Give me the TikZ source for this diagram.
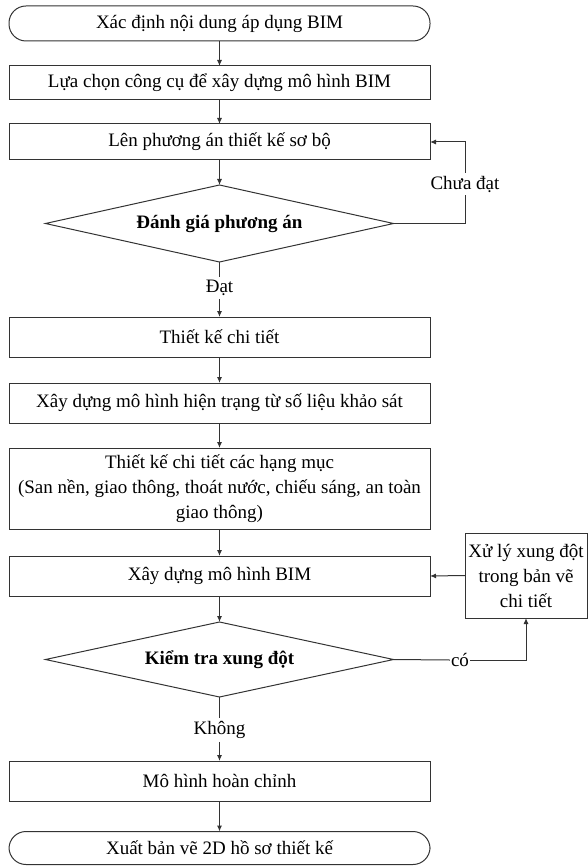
\documentclass[tikz,border=0pt]{standalone}
\usepackage{fontspec}
\setmainfont{Liberation Serif}
\usetikzlibrary{shapes.geometric,arrows.meta}
\newcommand\figfont{\fontsize{19}{25}\selectfont}
\begin{document}
\begin{tikzpicture}[x=1pt,y=-1pt,
  ln/.style={draw=black!80, line width=1pt},
  arr/.style={ln, -{Latex[length=6pt,width=5pt]}},
  box/.style={ln, rectangle, minimum width=421pt, inner sep=2pt, outer sep=0pt, align=center, font=\figfont},
  term/.style={box, rounded corners=17pt},
  dec/.style={ln, diamond, shape aspect=4.5, minimum width=348pt, inner sep=0pt, outer sep=0pt, font=\figfont\bfseries, align=center},
  side/.style={ln, rectangle, minimum width=122pt, minimum height=85pt, inner sep=2pt, outer sep=0pt, align=center, font=\figfont},
  lbl/.style={inner sep=3pt, font=\figfont}
]
\useasboundingbox (0,0) rectangle (588,866);
\node[term, minimum height=35pt] (t1) at (219.5,23.5) {Xác định nội dung áp dụng BIM};
\node[box, minimum height=34pt] (b2) at (219.5,83) {Lựa chọn công cụ để xây dựng mô hình BIM};
\node[box, minimum height=36pt] (b3) at (219.5,142) {Lên phương án thiết kế sơ bộ};
\node[dec, minimum height=77pt] (d1) at (219.5,223.5) {Đánh giá phương án};
\node[lbl] (dat) at (219.5,288) {Đạt};
\node[box, minimum height=40pt] (b4) at (219.5,337) {Thiết kế chi tiết};
\node[box, minimum height=40pt] (b5) at (219.5,403) {Xây dựng mô hình hiện trạng từ số liệu khảo sát};
\node[box, minimum height=81pt] (b6) at (219.5,488.5) {Thiết kế chi tiết các hạng mục\\(San nền, giao thông, thoát nước, chiếu sáng, an toàn\\giao thông)};
\node[box, minimum height=40pt] (b7) at (219.5,576) {Xây dựng mô hình BIM};
\node[dec, minimum height=75pt] (d2) at (219.5,659.5) {Kiểm tra xung đột};
\node[lbl] (khong) at (219.5,730) {Không};
\node[box, minimum height=40pt] (b8) at (219.5,781) {Mô hình hoàn chỉnh};
\node[term, minimum height=33pt] (t2) at (219.5,848) {Xuất bản vẽ 2D hồ sơ thiết kế};
\node[side] (sb) at (526,575.5) {Xử lý xung đột\\trong bản vẽ\\chi tiết};
\node[lbl] (chua) at (465,184) {Chưa đạt};
\node[lbl, inner sep=1pt] (co) at (460,660) {có};

\draw[arr] (t1) -- (b2);
\draw[arr] (b2) -- (b3);
\draw[arr] (b3) -- (d1);
\draw[ln] (d1.south) -- (dat.north);
\draw[arr] (dat.south) -- (b4.north);
\draw[ln] (d1.east) -| (chua.south);
\draw[arr] (chua.north) |- (b3.east);
\draw[arr] (b4) -- (b5);
\draw[arr] (b5) -- (b6);
\draw[arr] (b6) -- (b7);
\draw[arr] (b7) -- (d2);
\draw[ln] (d2.east) -- (co.west);
\draw[arr] (co.east) -| (sb.south);
\draw[arr] (sb.west) -- (b7.east);
\draw[ln] (d2.south) -- (khong.north);
\draw[arr] (khong.south) -- (b8.north);
\draw[arr] (b8) -- (t2);
\end{tikzpicture}
\end{document}
